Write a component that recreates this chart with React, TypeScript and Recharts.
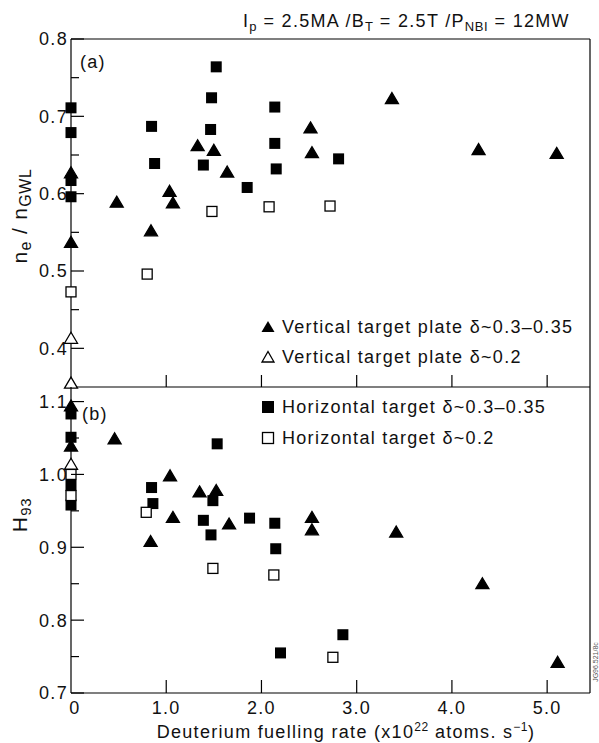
import React from 'react';
import {ScatterChart,Scatter,XAxis,YAxis,ReferenceLine} from 'recharts';

// x = deuterium fuelling rate (x10^22 atoms/s)
// panel (a): ne/nGWL
const vertA:[number,number][]=[[0,0.627],[0,0.537],[0.48,0.589],[0.84,0.552],[1.035,0.603],[1.07,0.588],[1.33,0.662],[1.5,0.656],[1.64,0.628],[2.515,0.685],[2.53,0.653],[3.37,0.723],[4.28,0.657],[5.1,0.652]];
const vertOpenA:[number,number][]=[[0,0.413],[0,0.355]];
const horA:[number,number][]=[[0,0.711],[0,0.679],[0,0.617],[0,0.596],[0.846,0.687],[0.878,0.639],[1.39,0.637],[1.466,0.683],[1.476,0.724],[1.525,0.764],[1.85,0.608],[2.14,0.712],[2.14,0.665],[2.155,0.632],[2.81,0.645]];
const horOpenA:[number,number][]=[[0,0.473],[0.8,0.496],[1.48,0.577],[2.08,0.583],[2.72,0.584]];
// panel (b): H93
const vertB:[number,number][]=[[0,1.094],[0,1.039],[0.458,1.049],[0.836,0.908],[1.04,0.998],[1.07,0.941],[1.35,0.976],[1.525,0.978],[1.66,0.932],[2.53,0.941],[2.53,0.924],[3.415,0.921],[4.32,0.85],[5.11,0.742]];
const vertOpenB:[number,number][]=[[0,1.014]];
const horB:[number,number][]=[[0,1.083],[0,1.051],[0,0.985],[0,0.958],[0.846,0.982],[0.86,0.96],[1.39,0.937],[1.47,0.917],[1.49,0.964],[1.535,1.042],[1.875,0.94],[2.14,0.933],[2.15,0.898],[2.2,0.755],[2.855,0.78]];
const horOpenB:[number,number][]=[[0,1.0],[0,0.971],[0.79,0.948],[1.49,0.871],[2.13,0.862],[2.75,0.749]];

const xTicks=[0,1,2,3,4,5];
const xTickLabels=['0','1.0','2.0','3.0','4.0','5.0'];
const yTicksA=[0.4,0.45,0.5,0.55,0.6,0.65,0.7,0.75,0.8];
const yTicksB=[0.7,0.75,0.8,0.85,0.9,0.95,1.0,1.05,1.1];
const xDom=[0,5.45];

const font='"Liberation Sans", Arial, Helvetica, sans-serif';
const ls=1.3; // letter spacing, the original face is wide
const pts=(a:[number,number][])=>a.map(([x,y])=>({x,y}));

const tri=(filled:boolean)=>(p:any)=><polygon points={`${p.cx},${p.cy-6} ${p.cx+6.5},${p.cy+5} ${p.cx-6.5},${p.cy+5}`} fill={filled?'#000':'#fff'} stroke="#000" strokeWidth={1.3}/>;
const sq=(filled:boolean)=>(p:any)=>filled
  ?<rect x={p.cx-5.5} y={p.cy-5.5} width={11} height={11} fill="#000"/>
  :<rect x={p.cx-5} y={p.cy-5} width={10} height={10} fill="#fff" stroke="#000" strokeWidth={1.3}/>;

const yTick=(p:any)=>{
  const v=p.payload.value;const major=Math.abs(v*10-Math.round(v*10))<1e-6;
  return(<g>
    <line x1={p.x} x2={p.x+(major?13:8)} y1={p.y} y2={p.y} stroke="#000" strokeWidth={1.2}/>
    {major&&<text x={p.x-3} y={p.y} dy="0.36em" textAnchor="end" fontSize={18} letterSpacing={ls} fontFamily={font} fill="#111">{v.toFixed(1)}</text>}
  </g>);
};
const xTickA=(p:any)=>p.payload.value===0?<g/>:<line x1={p.x} x2={p.x} y1={p.y} y2={p.y-12} stroke="#000" strokeWidth={1.2}/>;
const xTickB=(p:any)=>{
  const i=xTicks.indexOf(p.payload.value);
  return(<g>
    {i>0&&<line x1={p.x} x2={p.x} y1={p.y} y2={p.y-13} stroke="#000" strokeWidth={1.2}/>}
    <text x={p.x+(i===0?4:0)} y={p.y+15} dy="0.36em" textAnchor="middle" fontSize={18} letterSpacing={ls} fontFamily={font} fill="#111">{xTickLabels[i]}</text>
  </g>);
};

const Marker:React.FC<{k:'tf'|'to'|'sf'|'so'}>=({k})=>(
  <svg width={16} height={14} style={{verticalAlign:'-1px',marginRight:6}}>
    {k==='tf'&&<polygon points="8,1 14.5,12 1.5,12" fill="#000"/>}
    {k==='to'&&<polygon points="8,1.5 14,12 2,12" fill="#fff" stroke="#000" strokeWidth={1.3}/>}
    {k==='sf'&&<rect x={2} y={1} width={12} height={12} fill="#000"/>}
    {k==='so'&&<rect x={2.5} y={1.5} width={11} height={11} fill="#fff" stroke="#000" strokeWidth={1.3}/>}
  </svg>
);

const txt:React.CSSProperties={position:'absolute',fontFamily:font,fontSize:18,letterSpacing:ls,color:'#111',whiteSpace:'nowrap',lineHeight:1};
const subS:React.CSSProperties={fontSize:13,verticalAlign:'-4px',letterSpacing:0.6};
const supS:React.CSSProperties={fontSize:12,verticalAlign:'7px',letterSpacing:0.5};
const axLine={stroke:'#000',strokeWidth:1.2};

const App:React.FC=()=>{
  return(
    <div style={{position:'absolute',left:0,top:0,width:599,height:743,background:'#fff',overflow:'hidden'}}>
      {/* Panel (a) */}
      <div style={{position:'absolute',left:0,top:0}}>
        <ScatterChart width={599} height={400} margin={{top:39,right:9,bottom:12,left:70}}>
          <XAxis type="number" dataKey="x" domain={xDom} ticks={xTicks} height={1} tickSize={0} tickMargin={0} tick={xTickA} tickLine={false} axisLine={axLine}/>
          <YAxis type="number" dataKey="y" domain={[0.35,0.8]} ticks={yTicksA} width={1} tickSize={0} tickMargin={0} tick={yTick} tickLine={false} axisLine={axLine}/>
          <ReferenceLine y={0.8} stroke="#000" strokeWidth={1.2} ifOverflow="visible"/>
          <ReferenceLine x={5.45} stroke="#000" strokeWidth={1.2} ifOverflow="visible"/>
          <Scatter data={pts(horA)} shape={sq(true)} isAnimationActive={false}/>
          <Scatter data={pts(horOpenA)} shape={sq(false)} isAnimationActive={false}/>
          <Scatter data={pts(vertA)} shape={tri(true)} isAnimationActive={false}/>
          <Scatter data={pts(vertOpenA)} shape={tri(false)} isAnimationActive={false}/>
        </ScatterChart>
      </div>
      {/* Panel (b) */}
      <div style={{position:'absolute',left:0,top:387}}>
        <ScatterChart width={599} height={356} margin={{top:0,right:9,bottom:49,left:70}}>
          <XAxis type="number" dataKey="x" domain={xDom} ticks={xTicks} height={1} tickSize={0} tickMargin={0} tick={xTickB} tickLine={false} axisLine={axLine}/>
          <YAxis type="number" dataKey="y" domain={[0.7,1.12]} ticks={yTicksB} width={1} tickSize={0} tickMargin={0} tick={yTick} tickLine={false} axisLine={axLine}/>
          <ReferenceLine x={5.45} stroke="#000" strokeWidth={1.2} ifOverflow="visible"/>
          <Scatter data={pts(horB)} shape={sq(true)} isAnimationActive={false}/>
          <Scatter data={pts(horOpenB)} shape={sq(false)} isAnimationActive={false}/>
          <Scatter data={pts(vertB)} shape={tri(true)} isAnimationActive={false}/>
          <Scatter data={pts(vertOpenB)} shape={tri(false)} isAnimationActive={false}/>
        </ScatterChart>
      </div>

      {/* title */}
      <div style={{...txt,left:243,top:12}}>I<span style={subS}>p</span> = 2.5MA /B<span style={subS}>T</span> = 2.5T /P<span style={subS}>NBI</span> = 12MW</div>
      {/* panel tags */}
      <div style={{...txt,left:80,top:53}}>(a)</div>
      <div style={{...txt,left:82,top:405}}>(b)</div>
      {/* legends */}
      <div style={{...txt,left:260,top:318}}><Marker k="tf"/>Vertical target plate δ~0.3–0.35</div>
      <div style={{...txt,left:260,top:348}}><Marker k="to"/>Vertical target plate δ~0.2</div>
      <div style={{...txt,left:260,top:398}}><Marker k="sf"/>Horizontal target δ~0.3–0.35</div>
      <div style={{...txt,left:260,top:429}}><Marker k="so"/>Horizontal target δ~0.2</div>
      {/* y labels */}
      <div style={{...txt,fontSize:21,left:21,top:216,transform:'translate(-50%,-50%) rotate(-90deg)'}}>n<span style={{...subS,fontSize:16}}>e</span> / n<span style={{...subS,fontSize:16}}>GWL</span></div>
      <div style={{...txt,fontSize:21,left:21,top:515,transform:'translate(-50%,-50%) rotate(-90deg)'}}>H<span style={{...subS,fontSize:15}}>93</span></div>
      {/* x label */}
      <div style={{...txt,left:346,top:731,transform:'translate(-50%,-50%)'}}>Deuterium fuelling rate (x10<span style={supS}>22</span> atoms. s<span style={supS}>−1</span>)</div>
      <div style={{...txt,fontSize:7,letterSpacing:0,color:'#555',left:595,top:662,transform:'translate(-50%,-50%) rotate(-90deg)'}}>JG96.521/8c</div>
    </div>
  );
};
export default App;
